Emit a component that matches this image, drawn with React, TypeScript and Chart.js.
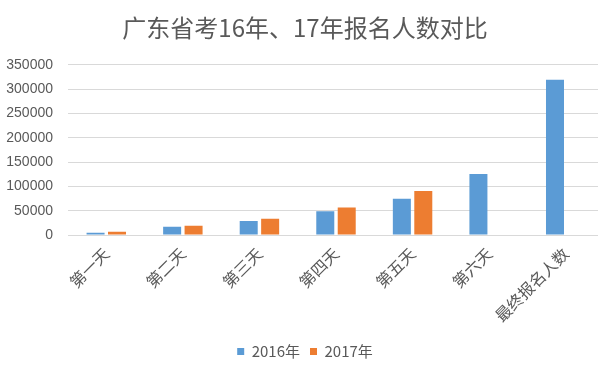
import React, { useEffect, useRef } from "react";
import { Chart, registerables } from "chart.js";

Chart.register(...registerables);

const categories = ["第一天", "第二天", "第三天", "第四天", "第五天", "第六天", "最终报名人数"];
const series2016 = [4800, 17200, 28800, 48700, 74800, 125600, 319100];
const series2017: (number | null)[] = [6900, 19200, 33600, 56300, 90600, null, null];
const seriesNames = ["2016年", "2017年"];
const titleText = "广东省考16年、17年报名人数对比";

const FONT = "'Noto Sans CJK SC', 'Noto Sans', sans-serif";
const NUMFONT = "'Liberation Sans', 'Noto Sans CJK SC', sans-serif";
const TEXT = "#595959";
const GRID = "#D9D9D9";

export default function App() {
  const ref = useRef<HTMLCanvasElement | null>(null);

  useEffect(() => {
    if (!ref.current) return;
    const chart = new Chart(ref.current, {
      type: "bar",
      data: {
        labels: categories,
        datasets: [
          {
            label: seriesNames[0],
            data: series2016,
            backgroundColor: "#5B9BD5",
            categoryPercentage: 0.56,
            barPercentage: 0.84,
          },
          {
            label: seriesNames[1],
            data: series2017,
            backgroundColor: "#ED7D31",
            categoryPercentage: 0.56,
            barPercentage: 0.84,
          },
        ],
      },
      options: {
        responsive: false,
        animation: false,
        devicePixelRatio: 1,
        layout: { padding: { left: 6, right: 16, top: 0, bottom: 2 } },
        plugins: {
          title: {
            display: true,
            text: titleText,
            color: TEXT,
            font: { family: FONT, size: 24, weight: "normal" },
            padding: { top: 13, bottom: 23 },
          },
          legend: {
            position: "bottom",
            labels: {
              color: TEXT,
              font: { family: FONT, size: 15 },
              boxWidth: 7,
              boxHeight: 7,
              padding: 10,
            },
          },
          tooltip: { enabled: false },
        },
        scales: {
          x: {
            grid: { display: false, drawTicks: false },
            border: { display: false },
            ticks: {
              color: TEXT,
              font: { family: FONT, size: 16 },
              minRotation: 45,
              maxRotation: 45,
              padding: 9,
              autoSkip: false,
            },
            afterFit: (scale: any) => {
              scale.height = 99;
              scale.paddingLeft = 0;
              scale.paddingRight = 0;
            },
          },
          y: {
            min: 0,
            max: 350000,
            grid: { color: GRID, drawTicks: false, lineWidth: 1 },
            border: { display: false },
            ticks: {
              stepSize: 50000,
              color: TEXT,
              font: { family: NUMFONT, size: 14 },
              padding: 15,
              callback: (v: any) => String(v),
            },
            afterFit: (scale: any) => {
              scale.width = 62;
            },
          },
        },
      },
    });
    return () => chart.destroy();
  }, []);

  return (
    <div
      style={{
        position: "fixed",
        left: 0,
        top: 0,
        width: 598,
        height: 371,
        overflow: "hidden",
        background: "#ffffff",
      }}
    >
      <canvas ref={ref} width={620} height={371} style={{ display: "block" }} />
    </div>
  );
}
